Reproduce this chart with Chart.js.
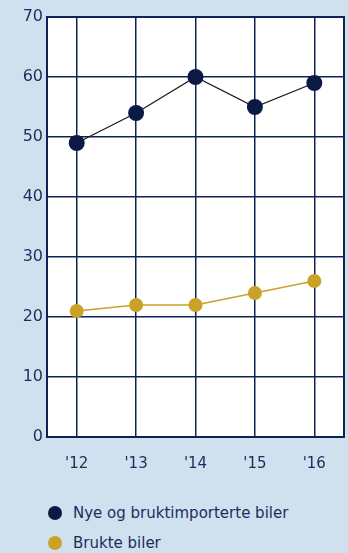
<!DOCTYPE html>
<html>
<head>
<meta charset="utf-8">
<script src="https://cdn.jsdelivr.net/npm/chart.js@4"></script>
<style>
  html, body { margin: 0; padding: 0; }
  body {
    width: 348px; height: 553px; overflow: hidden;
    background: #cfe1ee;
    position: relative;
    font-family: "DejaVu Sans", sans-serif;
  }
  .haze {
    position: absolute; left: 0; top: 440px; width: 348px; height: 113px;
    background:
      radial-gradient(ellipse 120px 40px at 300px 540px, rgba(255,255,255,0.45), rgba(255,255,255,0) 100%),
      radial-gradient(ellipse 90px 30px at 180px 553px, rgba(255,255,255,0.3), rgba(255,255,255,0) 100%);
  }
  #wrap { position: absolute; left: 0; top: 0; width: 352px; height: 480px; }
  .legend { position: absolute; left: 48px; top: 498px; color: #1b2d5c; font-size: 15px; }
  .legend div { height: 30px; display: flex; align-items: center; white-space: nowrap; }
  .legend span.dot { width: 14px; height: 14px; border-radius: 50%; display: inline-block; margin-right: 11px; }
</style>
</head>
<body>
<div class="haze"></div>
<div id="wrap"><canvas id="c"></canvas></div>
<div class="legend" id="legend"></div>
<script>
const years = ["'12", "'13", "'14", "'15", "'16"];
const nyeOgBruktimporterte = [49, 54, 60, 55, 59];
const brukteBiler = [21, 22, 22, 24, 26];
const seriesNames = ["Nye og bruktimporterte biler", "Brukte biler"];
const yTicks = [0, 10, 20, 30, 40, 50, 60, 70];

const navy = "#0b1a45";
const gold = "#c9a227";
const gridColor = "#0f2352";
const textColor = "#1b2d5c";

// white plot background behind the grid
const plotBackground = {
  id: 'plotBackground',
  beforeDraw(chart) {
    const { ctx, chartArea: a } = chart;
    ctx.save();
    ctx.fillStyle = '#ffffff';
    ctx.fillRect(a.left, a.top, a.right - a.left, a.bottom - a.top);
    ctx.restore();
  }
};

new Chart(document.getElementById('c'), {
  type: 'line',
  data: {
    labels: years,
    datasets: [
      {
        label: seriesNames[0],
        data: nyeOgBruktimporterte,
        borderColor: '#1a1a1a',
        borderWidth: 1.2,
        pointBackgroundColor: navy,
        pointBorderColor: navy,
        pointRadius: 8,
        pointBorderWidth: 0,
        tension: 0
      },
      {
        label: seriesNames[1],
        data: brukteBiler,
        borderColor: gold,
        borderWidth: 1.5,
        pointBackgroundColor: gold,
        pointBorderColor: gold,
        pointRadius: 7,
        pointBorderWidth: 0,
        tension: 0
      }
    ]
  },
  options: {
    responsive: true,
    maintainAspectRatio: false,
    animation: false,
    layout: { padding: { top: 17, right: 0, left: 0, bottom: 0 } },
    plugins: { legend: { display: false }, tooltip: { enabled: false } },
    scales: {
      x: {
        offset: true,
        grid: { offset: false, color: gridColor, lineWidth: 1.5, drawTicks: false },
        border: { color: gridColor, width: 2 },
        ticks: { color: textColor, font: { family: 'DejaVu Sans', size: 15 }, padding: 18 },
        afterFit(s) { s.height = 43; }
      },
      y: {
        min: 0, max: 70,
        afterBuildTicks(s) { s.ticks = yTicks.map(v => ({ value: v })); },
        grid: { color: gridColor, lineWidth: 1.5, drawTicks: false },
        border: { color: gridColor, width: 2 },
        ticks: { color: textColor, font: { family: 'DejaVu Sans', size: 16 }, padding: 4 },
        afterFit(s) { s.width = 47; }
      }
    }
  },
  plugins: [plotBackground, {
    id: 'frame',
    afterDraw(chart) {
      const { ctx, chartArea: a } = chart;
      ctx.save();
      ctx.strokeStyle = gridColor;
      ctx.lineWidth = 2;
      ctx.strokeRect(a.left, a.top, a.right - a.left, a.bottom - a.top);
      ctx.restore();
    }
  }]
});

// legend rows
const legend = document.getElementById('legend');
[[seriesNames[0], navy], [seriesNames[1], gold]].forEach(([name, color]) => {
  const row = document.createElement('div');
  row.innerHTML = '<span class="dot" style="background:' + color + '"></span>' + name;
  legend.appendChild(row);
});
</script>
</body>
</html>
